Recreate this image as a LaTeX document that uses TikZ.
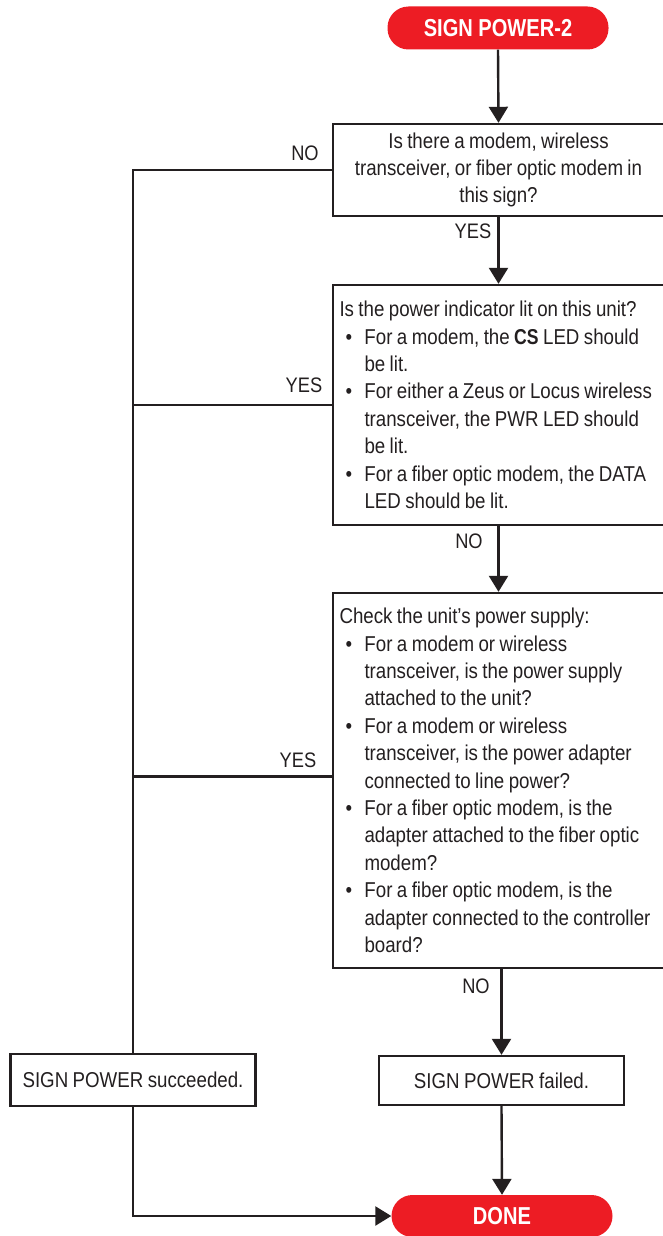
\documentclass[tikz,border=0pt]{standalone}
\usepackage{fontspec}
\setmainfont[FakeStretch=0.87,WordSpace=0.85]{Liberation Sans}
\newfontfamily\termfont[FakeStretch=0.82]{Liberation Sans}
\usetikzlibrary{arrows.meta}
\definecolor{signred}{HTML}{ED1C24}
\definecolor{ink}{HTML}{231F20}
% bullet item start and continuation indent
\newcommand\bul{\hspace*{6pt}\makebox[19pt][l]{\textbullet}}
\newcommand\ind{\hspace*{25pt}}
\newcommand\boxfont{\fontsize{21.5}{27.4}\selectfont\hyphenpenalty=10000\relax}

\tikzset{
  flow/.style={line width=2.4pt, draw=ink},
  arrowline/.style={flow, -{Triangle[length=16pt,width=19pt]}},
  box/.style={draw=ink, line width=2.4pt, text=ink, inner sep=0pt, font=\boxfont},
  term/.style={fill=signred, text=white, rounded corners=21pt, inner sep=0pt,
    minimum width=221pt, minimum height=43pt,
    font=\termfont\bfseries\fontsize{24.5}{28}\selectfont},
  lbl/.style={text=ink, inner sep=0pt, font=\fontsize{21}{24}\selectfont}
}

\begin{document}
\begin{tikzpicture}[x=1pt,y=-1pt]
  \useasboundingbox (0,0) rectangle (663,1236);

  % terminals
  \node[term] (start) at (498,28) {SIGN POWER-2};
  \node[term, minimum height=42pt] (done) at (502,1216) {DONE};

  % question boxes
  \node[box, minimum width=331pt, minimum height=92pt, align=center] (q1) at (498.5,170)
    {Is there a modem, wireless\\transceiver, or fiber optic modem in\\this sign?};

  \node[box, minimum width=333pt, minimum height=240pt, text width=320pt, align=flush left] (power) at (499.5,405)
    {Is the power indicator lit on this unit?\\
     \bul For a modem, the {\termfont\bfseries CS} LED should\\
     \ind be lit.\\
     \bul For either a Zeus or Locus wireless\\
     \ind transceiver, the PWR LED should\\
     \ind be lit.\\
     \bul For a fiber optic modem, the DATA\\
     \ind LED should be lit.};

  \node[box, minimum width=333pt, minimum height=375pt, text width=320pt, align=flush left] (check) at (499.5,780.5)
    {Check the unit’s power supply:\\
     \bul For a modem or wireless\\
     \ind transceiver, is the power supply\\
     \ind attached to the unit?\\
     \bul For a modem or wireless\\
     \ind transceiver, is the power adapter\\
     \ind connected to line power?\\
     \bul For a fiber optic modem, is the\\
     \ind adapter attached to the fiber optic\\
     \ind modem?\\
     \bul For a fiber optic modem, is the\\
     \ind adapter connected to the controller\\
     \ind board?};

  % outcome boxes
  \node[box, minimum width=245pt, minimum height=52pt] (ok) at (133,1080) {SIGN POWER succeeded.};
  \node[box, minimum width=245pt, minimum height=49pt] (fail) at (501.5,1080.5) {SIGN POWER failed.};

  % main path
  \draw[arrowline] (start.south) -- (q1.north);
  \draw[arrowline] (q1.south) -- (q1.south |- power.north);
  \draw[arrowline] (q1.south |- power.south) -- (q1.south |- check.north);
  \draw[arrowline] (check.south -| fail.north) -- (fail.north);
  \draw[arrowline] (fail.south) -- (done.north);

  % exits to the left column
  \draw[flow] (q1.west) -| (ok.north);
  \draw[flow] (power.west) -- (power.west -| ok.north);
  \draw[flow] ([yshift=4pt]check.west) -- ([yshift=4pt]check.west -| ok.north);
  \draw[arrowline] (ok.south) |- (done.west);

  % branch labels
  \node[lbl] (l1) at (305,153) {NO};
  \node[lbl] (l2) at (473,231) {YES};
  \node[lbl] (l3) at (304,385) {YES};
  \node[lbl] (l4) at (469,541) {NO};
  \node[lbl] (l5) at (298,760) {YES};
  \node[lbl] (l6) at (476,986) {NO};
\end{tikzpicture}
\end{document}
